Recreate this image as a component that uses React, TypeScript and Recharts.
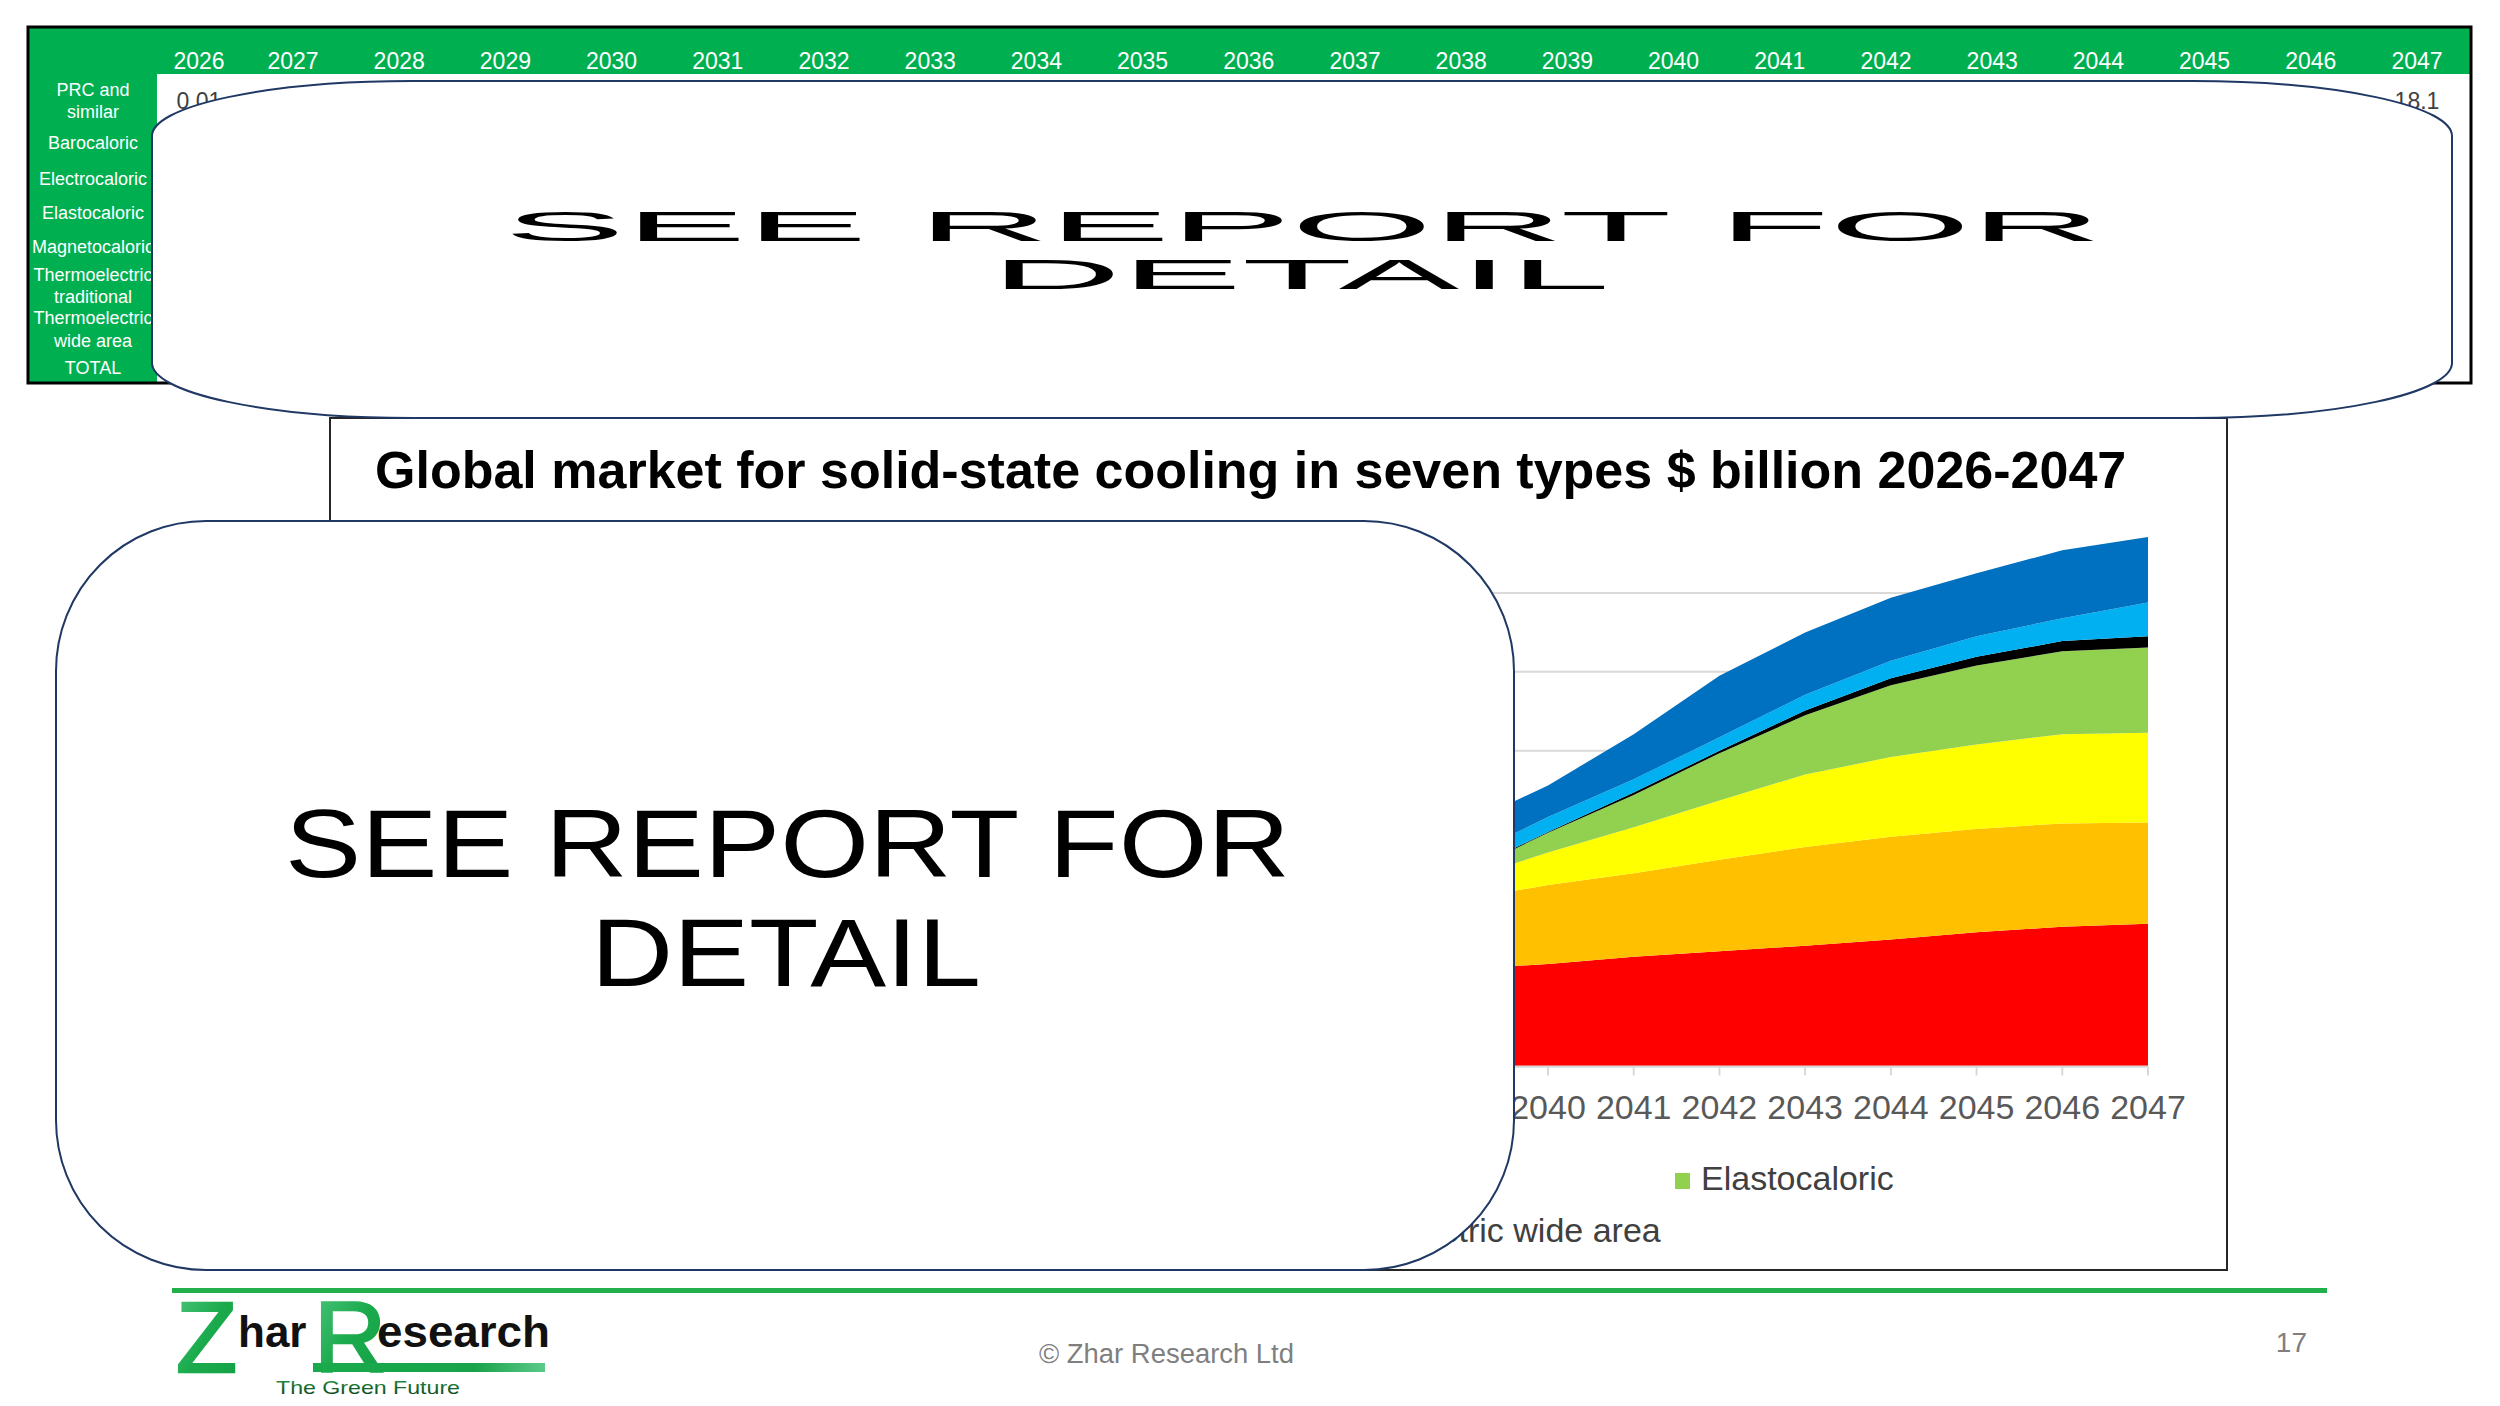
import React from 'react';
import { AreaChart, Area, XAxis, YAxis, CartesianGrid } from 'recharts';

// ---------- data ----------
const years = [2026, 2027, 2028, 2029, 2030, 2031, 2032, 2033, 2034, 2035, 2036, 2037, 2038, 2039, 2040, 2041, 2042, 2043, 2044, 2045, 2046, 2047];

const prcSimilar = [0.01, 0.05, 0.2, 0.6, 1.3, 2.3, 3.5, 4.8, 6.2, 7.6, 9.0, 10.3, 11.4, 12.3, 13.0, 13.9, 14.6, 15.3, 16.1, 17.0, 17.7, 18.1];
const barocaloric = [0, 0, 0.01, 0.05, 0.2, 0.5, 1.0, 1.8, 2.8, 4.0, 5.3, 6.6, 7.8, 8.8, 10.0, 10.6, 11.6, 12.5, 13.0, 13.1, 13.1, 12.8];
const electrocaloric = [0, 0, 0, 0.01, 0.05, 0.1, 0.2, 0.35, 0.55, 0.8, 1.1, 1.5, 2.0, 2.5, 4.1, 5.8, 7.5, 9.2, 10.1, 10.7, 11.3, 11.4];
const elastocaloric = [0, 0, 0, 0, 0.01, 0.02, 0.05, 0.1, 0.15, 0.2, 0.3, 0.45, 0.6, 0.8, 2.5, 4.1, 6.0, 7.5, 9.1, 10.0, 10.5, 10.8];
const magnetocaloric = [0.01, 0.01, 0.02, 0.02, 0.03, 0.03, 0.04, 0.05, 0.05, 0.06, 0.07, 0.08, 0.09, 0.1, 0.1, 0.3, 0.3, 0.6, 0.9, 1.1, 1.3, 1.4];
const thermoTraditional = [0.6, 0.7, 0.8, 0.85, 0.9, 1.0, 1.1, 1.2, 1.3, 1.4, 1.5, 1.6, 1.7, 1.8, 1.9, 1.7, 1.7, 2.0, 2.2, 2.6, 2.9, 4.3];
const thermoWideArea = [0.01, 0.02, 0.05, 0.1, 0.2, 0.35, 0.6, 0.9, 1.3, 1.8, 2.4, 3.0, 3.6, 4.2, 4.0, 5.7, 7.8, 7.9, 8.0, 8.0, 8.6, 8.3];

const seriesKeys = ['prc', 'baro', 'electro', 'elasto', 'magneto', 'teTrad', 'teWide'];
const seriesNames = ['PRC and similar', 'Barocaloric', 'Electrocaloric', 'Elastocaloric', 'Magnetocaloric', 'Thermoelectric traditional', 'Thermoelectric wide area'];
const seriesValues = [prcSimilar, barocaloric, electrocaloric, elastocaloric, magnetocaloric, thermoTraditional, thermoWideArea];
const seriesColors = ['#ff0000', '#ffc000', '#ffff00', '#92d050', '#000000', '#00b0f0', '#0070c0'];

const tableRowLabels = [['PRC and', 'similar'], ['Barocaloric'], ['Electrocaloric'], ['Elastocaloric'], ['Magnetocaloric'], ['Thermoelectric', 'traditional'], ['Thermoelectric', 'wide area'], ['TOTAL']];

const yTicks = [0, 10, 20, 30, 40, 50, 60];
const yDomain = [0, 70];

const chartTitle = 'Global market for solid-state cooling in seven types $ billion 2026-2047';
const overlayLines = ['SEE REPORT FOR', 'DETAIL'];

// ---------- layout ----------
const FONT = '"Liberation Sans", Arial, Helvetica, sans-serif';
const rowLabelBaselines = [[96, 118], [149], [185], [219], [253], [281, 303], [324, 347], [374]];

const data = years.map((yr, i) => {
  const row: Record<string, number | string> = { year: String(yr) };
  seriesKeys.forEach((k, s) => { row[k] = seriesValues[s][i]; });
  return row;
});

const fmt = (v: number) => (v < 1 ? v.toFixed(2) : v.toFixed(1));
const NoTick = () => <g />;

// grid line renderer: skip the line drawn at the top edge of the plot (no tick there)
const GridLine = (p: any) => {
  if (Math.abs(p.y1 - p.y) < 1) return <g key={p.key} />;
  return <line key={p.key} x1={p.x1} y1={p.y1} x2={p.x2} y2={p.y2} stroke="#d9d9d9" strokeWidth={2} />;
};

export default function App() {
  const colX = (i: number) => (i === 0 ? 199 : 293 + (i - 1) * ((2417 - 293) / (years.length - 2)));
  const legendCols = [409, 831, 1253, 1675];
  const legendRows = [1173, 1225];

  return (
    <div style={{ position: 'absolute', left: 0, top: 0, width: 2500, height: 1406, background: '#fff', overflow: 'hidden', fontFamily: FONT }}>
      {/* background layer: table, chart frame, title, legend */}
      <svg width={2500} height={1406} style={{ position: 'absolute', left: 0, top: 0 }}>
        <rect x={28} y={27} width={2443} height={356} fill="#00b050" />
        <rect x={157} y={74} width={2313} height={308} fill="#ffffff" />
        <rect x={28} y={27} width={2443} height={356} fill="none" stroke="#000" strokeWidth={3} />
        {years.map((yr, i) => (
          <text key={yr} x={colX(i)} y={69} textAnchor="middle" fill="#fff" fontSize={23} fontFamily={FONT}>{yr}</text>
        ))}
        {tableRowLabels.map((lines, r) =>
          lines.map((ln, j) => (
            <text key={r + '-' + j} x={93} y={rowLabelBaselines[r][j]} textAnchor="middle" fill="#fff" fontSize={18} fontFamily={FONT}>{ln}</text>
          ))
        )}
        <text x={colX(0)} y={109} textAnchor="middle" fill="#404040" fontSize={23} fontFamily={FONT}>{fmt(prcSimilar[0])}</text>
        <text x={colX(years.length - 1)} y={109} textAnchor="middle" fill="#404040" fontSize={23} fontFamily={FONT}>{fmt(prcSimilar[prcSimilar.length - 1])}</text>

        {/* chart frame */}
        <rect x={330} y={418} width={1897} height={852} fill="#fff" stroke="#262626" strokeWidth={2} />
        <text x={375} y={488} fontSize={52} fontWeight="bold" fill="#000" fontFamily={FONT}>{chartTitle}</text>

        {/* legend */}
        {seriesNames.map((name, i) => {
          const row = i < 4 ? 0 : 1;
          const col = i < 4 ? i : i - 4;
          const x = legendCols[col];
          const y = legendRows[row];
          return (
            <g key={name}>
              <rect x={x} y={y} width={15} height={16} fill={seriesColors[i]} />
              <text x={x + 26} y={y + 17} fontSize={34} fill="#404040" fontFamily={FONT}>{name}</text>
            </g>
          );
        })}
      </svg>

      {/* chart */}
      <div style={{ position: 'absolute', left: 290, top: 418, width: 1937, height: 852 }}>
        <AreaChart width={1937} height={852} data={data} margin={{ top: 96, right: 79, bottom: 143.5, left: 58 }}>
          <CartesianGrid vertical={false} horizontal={GridLine} stroke="#d9d9d9" strokeWidth={2} />
          <XAxis
            dataKey="year"
            interval={0}
            height={60}
            tickSize={9}
            tickMargin={19}
            axisLine={{ stroke: '#d9d9d9', strokeWidth: 2 }}
            tickLine={{ stroke: '#d9d9d9', strokeWidth: 2 }}
            tick={{ fill: '#595959', fontSize: 34, fontFamily: FONT }}
          />
          <YAxis width={0} domain={yDomain} ticks={yTicks} tick={NoTick} axisLine={false} tickLine={false} allowDataOverflow />
          {seriesKeys.map((k, i) => (
            <Area
              key={k}
              type="linear"
              dataKey={k}
              name={seriesNames[i]}
              stackId="1"
              fill={seriesColors[i]}
              fillOpacity={1}
              stroke="none"
              isAnimationActive={false}
            />
          ))}
        </AreaChart>
      </div>

      {/* foreground layer: overlays, footer, logo */}
      <svg width={2500} height={1406} style={{ position: 'absolute', left: 0, top: 0, pointerEvents: 'none' }}>
        <defs>
          <linearGradient id="logoGreen" x1="0" y1="0" x2="1" y2="1">
            <stop offset="0%" stopColor="#4fc77f" />
            <stop offset="50%" stopColor="#1aaa4c" />
            <stop offset="100%" stopColor="#14a045" />
          </linearGradient>
          <linearGradient id="barGreen" x1="0" y1="0" x2="1" y2="0">
            <stop offset="0%" stopColor="#1aaa4c" />
            <stop offset="70%" stopColor="#17a34a" />
            <stop offset="100%" stopColor="#5cc98a" />
          </linearGradient>
          <linearGradient id="tagline" x1="0" y1="0" x2="0" y2="1">
            <stop offset="0%" stopColor="#1f9a45" />
            <stop offset="100%" stopColor="#0c3a1a" />
          </linearGradient>
        </defs>

        {/* top overlay */}
        <rect x={152} y={81} width={2300} height={337} rx={260} ry={55} fill="#fff" stroke="#1f3864" strokeWidth={2} />
        <text x={504} y={241} fontSize={42} fill="#000" fontFamily={FONT} textLength={1598} lengthAdjust="spacingAndGlyphs">{overlayLines[0]}</text>
        <text x={991} y={289} fontSize={42} fill="#000" fontFamily={FONT} textLength={619} lengthAdjust="spacingAndGlyphs">{overlayLines[1]}</text>

        {/* lower overlay */}
        <rect x={56} y={521} width={1458} height={749} rx={150} ry={150} fill="#fff" stroke="#1f3864" strokeWidth={2} />
        <text x={285} y={877} fontSize={97} fill="#000" fontFamily={FONT} textLength={1005} lengthAdjust="spacingAndGlyphs">{overlayLines[0]}</text>
        <text x={591} y={986} fontSize={97} fill="#000" fontFamily={FONT} textLength={390} lengthAdjust="spacingAndGlyphs">{overlayLines[1]}</text>

        {/* footer line */}
        <rect x={172} y={1288} width={2155} height={5} fill="#21b04b" />

        {/* logo */}
        <text x={176} y={1372} fontSize={100} fill="url(#logoGreen)" stroke="url(#logoGreen)" strokeWidth={2.5} fontFamily={FONT}>Z</text>
        <text x={238} y={1347} fontSize={44} fontWeight="bold" fill="#111" fontFamily={FONT}>har</text>
        <text x={314} y={1372} fontSize={100} fill="url(#logoGreen)" stroke="url(#logoGreen)" strokeWidth={2.5} fontFamily={FONT}>R</text>
        <text x={377} y={1347} fontSize={44} fontWeight="bold" fill="#111" fontFamily={FONT} textLength={173} lengthAdjust="spacingAndGlyphs">esearch</text>
        <rect x={313} y={1363} width={232} height={9} fill="url(#barGreen)" />
        <text x={276} y={1394} fontSize={19} fill="url(#tagline)" fontFamily={FONT} textLength={184} lengthAdjust="spacingAndGlyphs">The Green Future</text>

        {/* footer texts */}
        <text x={1039} y={1363} fontSize={27} fill="#7f7f7f" fontFamily={FONT} textLength={255} lengthAdjust="spacingAndGlyphs">© Zhar Research Ltd</text>
        <text x={2307} y={1352} fontSize={28} fill="#7f7f7f" textAnchor="end" fontFamily={FONT}>17</text>
      </svg>
    </div>
  );
}
